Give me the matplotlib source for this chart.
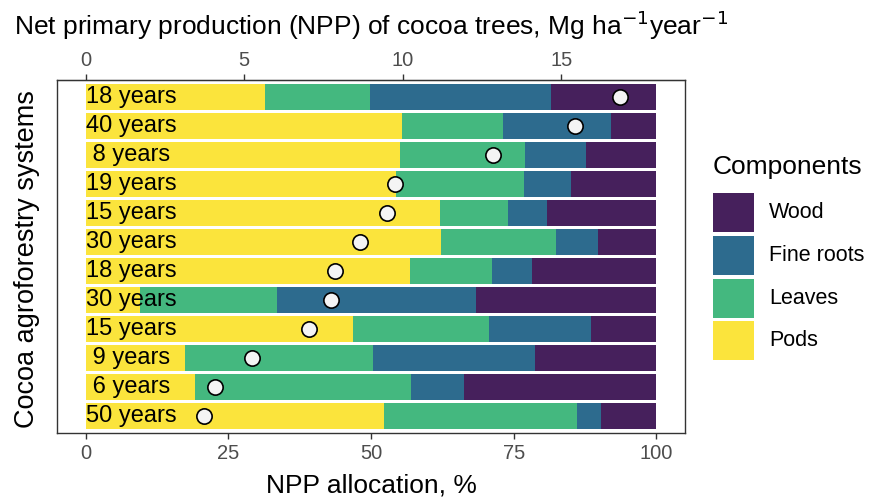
import matplotlib
matplotlib.use("Agg")
import matplotlib.pyplot as plt
from matplotlib.patches import Rectangle

plt.rcParams['font.family'] = ['Liberation Sans', 'DejaVu Sans']

# rows top -> bottom
systems = ["18 years", "40 years", " 8 years", "19 years", "15 years", "30 years",
           "18 years", "30 years", "15 years", " 9 years", " 6 years", "50 years"]
pods = [31.4, 55.5, 55.0, 54.4, 62.1, 62.2, 56.8, 9.6, 46.8, 17.4, 19.1, 52.3]
leaves = [18.5, 17.6, 22.0, 22.4, 11.9, 20.2, 14.4, 23.9, 23.8, 32.9, 37.9, 33.8]
fine_roots = [31.6, 18.9, 10.6, 8.2, 6.8, 7.3, 7.0, 34.9, 18.0, 28.4, 9.3, 4.2]
wood = [18.5, 8.0, 12.4, 15.0, 19.2, 10.3, 21.8, 31.6, 11.4, 21.3, 33.7, 9.7]
# total NPP, Mg ha-1 year-1 (top axis)
npp_total = [16.85, 15.44, 12.84, 9.77, 9.52, 8.65, 7.88, 7.73, 7.04, 5.24, 4.09, 3.75]

components = ["Wood", "Fine roots", "Leaves", "Pods"]
colors = {"Wood": "#46205C", "Fine roots": "#2D6B8E", "Leaves": "#44B87F", "Pods": "#FBE43C"}

SCALE = 0.18  # 100 % on the bottom axis == 18 Mg on the top axis

fig = plt.figure(figsize=(8.7, 5.01), dpi=100)
W, H = 870, 501
ax = fig.add_axes([57 / W, (H - 433) / H, (685 - 57) / W, (433 - 80) / H])

y = list(range(len(systems)))
left = [0.0] * len(systems)
for name, vals in [("Pods", pods), ("Leaves", leaves), ("Fine roots", fine_roots), ("Wood", wood)]:
    ax.barh(y, vals, left=left, height=0.9, color=colors[name], linewidth=0)
    left = [l + v for l, v in zip(left, vals)]

for yi, lab in zip(y, systems):
    ax.text(0, yi, lab, ha="left", va="center", fontsize=17, color="black")

ax.plot([v / SCALE for v in npp_total], y, "o", ms=11, mfc="#F4F4F4", mec="black", mew=1.2,
        zorder=5)

ax.set_xlim(-5, 105)
ax.set_ylim(len(systems) - 0.4, -0.6)
ax.set_xticks([0, 25, 50, 75, 100])
ax.set_yticks([])
ax.tick_params(axis="x", length=4, width=1, color="#333333", labelsize=14.5,
               labelcolor="#4D4D4D", pad=4)
for sp in ax.spines.values():
    sp.set_color("#333333")
    sp.set_linewidth(1)
ax.set_xlabel("NPP allocation, %", fontsize=19, labelpad=7.5)

top = ax.secondary_xaxis("top", functions=(lambda x: x * SCALE, lambda x: x / SCALE))
top.set_xticks([0, 5, 10, 15])
top.tick_params(axis="x", length=4, width=1, color="#333333", labelsize=14.5,
                labelcolor="#4D4D4D", pad=3)
top.set_xlabel(r"Net primary production (NPP) of cocoa trees, Mg ha$^{-1}$year$^{-1}$",
               fontsize=19, labelpad=12)

fig.text(27 / W, 1 - 259 / H, "Cocoa agroforestry systems", rotation=90, ha="center",
         va="center", fontsize=19.5)

# legend drawn by hand so the keys are square blocks like ggplot's
key_x, key_w, key_h, key_step, key_top = 713, 41, 39, 42.8, 193
fig.text(key_x / W, 1 - 167 / H, "Components", ha="left", va="center", fontsize=19)
for i, comp in enumerate(components):
    top_px = key_top + i * key_step
    fig.add_artist(Rectangle((key_x / W, 1 - (top_px + key_h) / H), key_w / W, key_h / H,
                             transform=fig.transFigure, facecolor=colors[comp], edgecolor="none"))
    fig.text(769 / W, 1 - (top_px + key_h / 2) / H, comp, ha="left", va="center", fontsize=15.5)

fig.savefig("out.png", dpi=100)
